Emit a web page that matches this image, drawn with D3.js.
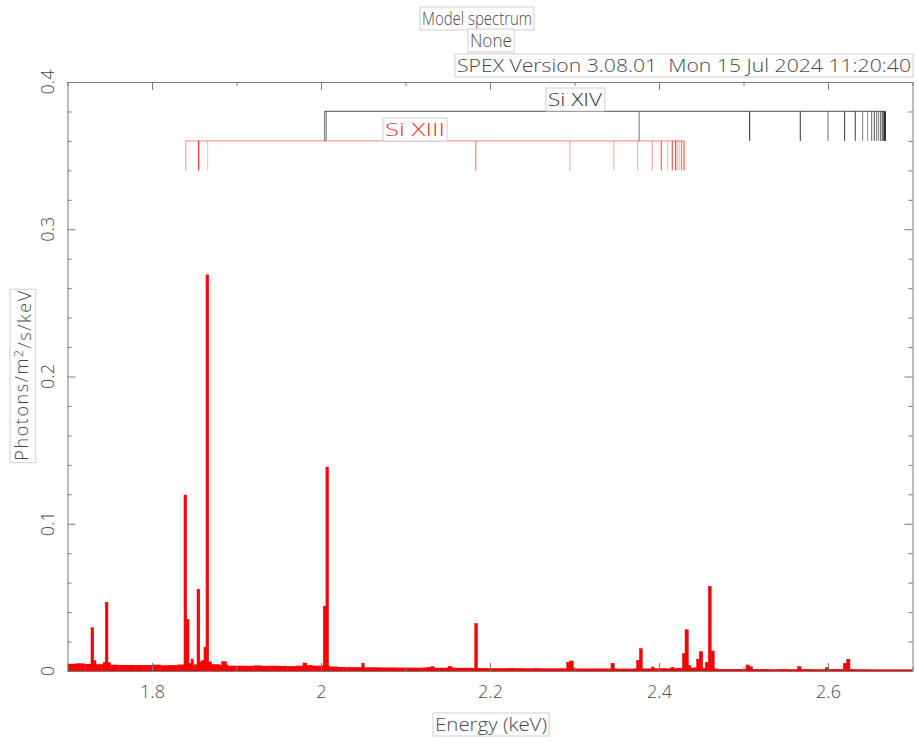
<!DOCTYPE html>
<html>
<head>
<meta charset="utf-8">
<script src="https://cdn.jsdelivr.net/npm/d3@7"></script>
<style>
  html, body { margin: 0; padding: 0; background: #fff; }
  svg { display: block; }
  text { font-family: "Open Sans", "DejaVu Sans", sans-serif; font-weight: 300; fill: #4a4a4a; white-space: pre; }
</style>
</head>
<body>
<svg id="chart" width="918" height="743"></svg>
<script>
// ---- Model continuum, 0.01 keV bins starting at these energies (keV) ----
const contLo = [
  1.70,1.71,1.72,1.73,1.74,1.75,1.76,1.77,1.78,1.79,
  1.80,1.81,1.82,1.83,1.84,1.85,1.86,1.87,1.88,1.89,
  1.90,1.91,1.92,1.93,1.94,1.95,1.96,1.97,1.98,1.99,
  2.00,2.01,2.02,2.03,2.04,2.05,2.06,2.07,2.08,2.09,
  2.10,2.11,2.12,2.13,2.14,2.15,2.16,2.17,2.18,2.19,
  2.20,2.21,2.22,2.23,2.24,2.25,2.26,2.27,2.28,2.29,
  2.30,2.31,2.32,2.33,2.34,2.35,2.36,2.37,2.38,2.39,
  2.40,2.41,2.42,2.43,2.44,2.45,2.46,2.47,2.48,2.49,
  2.50,2.51,2.52,2.53,2.54,2.55,2.56,2.57,2.58,2.59,
  2.60,2.61,2.62,2.63,2.64,2.65,2.66,2.67,2.68,2.69
];
const contVal = [
  .0049,.0052,.0048,.0046,.0047,.0043,.0041,.0041,.0040,.0040,
  .0043,.0039,.0040,.0044,.0042,.0045,.0050,.0046,.0042,.0036,
  .0036,.0035,.0038,.0035,.0036,.0034,.0033,.0036,.0040,.0036,
  .0038,.0030,.0027,.0026,.0026,.0025,.0025,.0024,.0024,.0023,
  .0023,.0022,.0024,.0022,.0022,.0023,.0021,.0021,.0020,.0020,
  .0019,.0019,.0020,.0019,.0018,.0019,.0018,.0018,.0018,.0019,
  .0017,.0017,.0017,.0017,.0017,.0016,.0016,.0018,.0017,.0018,
  .0019,.0018,.0020,.0022,.0024,.0020,.0016,.0013,.0013,.0013,
  .0013,.0013,.0013,.0012,.0013,.0012,.0012,.0013,.0012,.0012,
  .0013,.0013,.0014,.0012,.0012,.0011,.0011,.0011,.0011,.0011
];

// ---- Line features: narrow bins (keV) and fluxes (photons/m^2/s/keV) ----
const featLo = [
  1.7278,1.7310,1.7424,1.7447,1.7479,1.8379,1.8411,1.8438,1.8462,1.8533,
  1.8565,1.8588,1.8615,1.8639,1.8671,1.8825,1.9787,2.0027,2.0058,2.0482,
  2.1254,2.1302,2.1503,2.1819,2.2908,2.2941,2.3432,2.3736,2.3769,2.3914,
  2.4142,2.4278,2.4308,2.4347,2.4446,2.4477,2.4548,2.4584,2.4618,2.5030,
  2.5069,2.5641,2.5968,2.6181,2.6221
];
const featHi = [
  1.7310,1.7337,1.7447,1.7479,1.7511,1.8411,1.8438,1.8462,1.8489,1.8565,
  1.8588,1.8615,1.8639,1.8671,1.8706,1.8884,1.9834,2.0058,2.0089,2.0512,
  2.1290,2.1337,2.1550,2.1852,2.2941,2.2986,2.3471,2.3769,2.3802,2.3941,
  2.4178,2.4308,2.4347,2.4379,2.4477,2.4517,2.4584,2.4618,2.4654,2.5069,
  2.5107,2.5681,2.6008,2.6221,2.6260
];
const featVal = [
  .0294,.0070,.0060,.0466,.0056,.1195,.0351,.0050,.0081,.0555,
  .0062,.0070,.0161,.2690,.0062,.0063,.0054,.0440,.1385,.0052,
  .0025,.0029,.0031,.0321,.0059,.0068,.0052,.0073,.0152,.0027,
  .0025,.0118,.0280,.0036,.0081,.0131,.0059,.0575,.0136,.0041,
  .0029,.0030,.0023,.0052,.0079
];

// ---- Line identifications: energies (keV) and relative strengths ----
const siXIVEnergy = [2.0043,2.0061,2.3765,2.5073,2.5672,2.6000,2.6197,2.6323,2.6410,2.6470,
                     2.6517,2.6548,2.6576,2.6600,2.6623,2.6642,2.6660,2.6670,2.6678];
const siXIVStrength = [0.55,0.6,0.55,0.85,0.8,0.55,0.8,0.75,0.5,0.45,0.6,0.7,0.6,0.5,0.6,0.7,0.8,0.85,0.95];
const siXIIIEnergy = [1.8400,1.8553,1.8659,2.1832,2.2946,2.3466,2.3748,2.3920,2.4027,2.4103,
                      2.4157,2.4198,2.4222,2.4246,2.4266,2.4288,2.4300];
const siXIIIStrength = [0.45,1.0,0.3,0.6,0.4,0.35,0.35,0.4,0.75,0.3,0.8,0.9,0.35,0.3,0.5,0.4,0.5];

// ---- Axes ----
const xDomain = [1.7, 2.7];
const yDomain = [0, 0.4];
const xMajor = [1.8, 2.0, 2.2, 2.4, 2.6];
const xMajorLabels = ["1.8", "2", "2.2", "2.4", "2.6"];
const xMinor = [1.7, 1.9, 2.1, 2.3, 2.5, 2.7];
const yMajor = [0, 0.1, 0.2, 0.3, 0.4];
const yMajorLabels = ["0", "0.1", "0.2", "0.3", "0.4"];
const yMinor = [0.02,0.04,0.06,0.08,0.12,0.14,0.16,0.18,0.22,0.24,0.26,0.28,0.32,0.34,0.36,0.38];

const svg = d3.select("#chart");
const plotLeft = 67.5, plotRight = 912.5, plotTop = 82, plotBottom = 671;
const x = d3.scaleLinear().domain(xDomain).range([plotLeft, plotRight]);
const y = d3.scaleLinear().domain(yDomain).range([plotBottom, plotTop]);
const axisColor = "#7a7a7a";

svg.append("defs").append("clipPath").attr("id", "plotClip")
  .append("rect").attr("x", plotLeft).attr("y", plotTop)
  .attr("width", plotRight - plotLeft).attr("height", plotBottom - plotTop);

// Spectrum histogram
const spec = svg.append("g").attr("clip-path", "url(#plotClip)");
const contBins = contLo.map((lo, i) => ({ lo, hi: lo + 0.01, v: contVal[i] }));
const featBins = featLo.map((lo, i) => ({ lo, hi: featHi[i], v: featVal[i] }));
spec.selectAll("rect.cont").data(contBins).join("rect").attr("class", "cont")
  .attr("x", d => x(d.lo)).attr("width", d => x(d.hi) - x(d.lo) + 0.3)
  .attr("y", d => y(d.v)).attr("height", d => y(0) - y(d.v))
  .attr("fill", "#ff0000");
spec.selectAll("rect.feat").data(featBins).join("rect").attr("class", "feat")
  .attr("x", d => x(d.lo)).attr("width", d => x(d.hi) - x(d.lo))
  .attr("y", d => y(d.v)).attr("height", d => y(0) - y(d.v))
  .attr("fill", "#ff0000").attr("stroke", "#e80000").attr("stroke-width", 0.5);

// Frame and ticks
const frame = svg.append("g");
function styleAxis(g) {
  g.select(".domain").attr("stroke", axisColor);
  g.selectAll(".tick line").attr("stroke", axisColor);
  g.selectAll(".tick text").style("font-size", "18px").attr("fill", "#4a4a4a");
}
frame.append("g").attr("transform", `translate(0,${plotBottom})`)
  .call(d3.axisBottom(x).tickValues(xMajor).tickFormat((d, i) => xMajorLabels[i]).tickSize(-8).tickSizeOuter(0).tickPadding(14))
  .call(styleAxis).call(g => g.selectAll(".tick text").attr("dy", "0.71em"));
frame.append("g").attr("transform", `translate(0,${plotBottom})`)
  .call(d3.axisBottom(x).tickValues(xMinor).tickFormat("").tickSize(-4).tickSizeOuter(0))
  .call(styleAxis).call(g => g.select(".domain").remove());
frame.append("g").attr("transform", `translate(0,${plotTop})`)
  .call(d3.axisTop(x).tickValues(xMajor).tickFormat("").tickSize(-8).tickSizeOuter(0))
  .call(styleAxis);
frame.append("g").attr("transform", `translate(0,${plotTop})`)
  .call(d3.axisTop(x).tickValues(xMinor).tickFormat("").tickSize(-4).tickSizeOuter(0))
  .call(styleAxis).call(g => g.select(".domain").remove());

frame.append("g").attr("transform", `translate(${plotLeft},0)`)
  .call(d3.axisLeft(y).tickValues(yMajor).tickFormat("").tickSize(-8).tickSizeOuter(0))
  .call(styleAxis);
frame.append("g").attr("transform", `translate(${plotLeft},0)`)
  .call(d3.axisLeft(y).tickValues(yMinor).tickFormat("").tickSize(-4).tickSizeOuter(0))
  .call(styleAxis).call(g => g.select(".domain").remove());
frame.append("g").attr("transform", `translate(${plotRight},0)`)
  .call(d3.axisRight(y).tickValues(yMajor).tickFormat("").tickSize(-8).tickSizeOuter(0))
  .call(styleAxis);
frame.append("g").attr("transform", `translate(${plotRight},0)`)
  .call(d3.axisRight(y).tickValues(yMinor).tickFormat("").tickSize(-4).tickSizeOuter(0))
  .call(styleAxis).call(g => g.select(".domain").remove());

// Rotated y tick labels
frame.selectAll("text.ylab").data(yMajor).join("text").attr("class", "ylab")
  .attr("transform", d => `translate(54,${y(d)}) rotate(-90)`)
  .attr("text-anchor", "middle").style("font-size", "18px")
  .text((d, i) => yMajorLabels[i]);

// Line identification markers
function lineSeries(energies, strengths, yTop, yBot, color, hOpacity) {
  const g = svg.append("g");
  g.append("line")
    .attr("x1", x(d3.min(energies))).attr("x2", x(d3.max(energies)))
    .attr("y1", y(yTop)).attr("y2", y(yTop))
    .attr("stroke", color).attr("stroke-opacity", hOpacity).attr("stroke-width", 1.2);
  g.selectAll("line.mk").data(energies).join("line").attr("class", "mk")
    .attr("x1", d => x(d)).attr("x2", d => x(d))
    .attr("y1", y(yTop)).attr("y2", y(yBot))
    .attr("stroke", color).attr("stroke-width", 1)
    .attr("stroke-opacity", (d, i) => strengths[i]);
  return g;
}
lineSeries(siXIVEnergy, siXIVStrength, 0.38, 0.36, "#000000", 0.55);
lineSeries(siXIIIEnergy, siXIIIStrength, 0.36, 0.34, "#ff0000", 0.4);

// Boxed labels
function boxedText(txt, cx, baseline, opts = {}) {
  const size = opts.size || 18;
  const g = svg.append("g");
  const t = g.append("text").attr("x", cx).attr("y", baseline)
    .attr("text-anchor", opts.anchor || "middle").style("font-size", size + "px").text(txt);
  if (opts.length) t.attr("textLength", opts.length).attr("lengthAdjust", "spacingAndGlyphs");
  if (opts.color) t.style("fill", opts.color);
  const b = t.node().getBBox();
  const pad = 2;
  g.insert("rect", "text").attr("fill", "#fff").attr("stroke", "#cfcfcf").attr("stroke-width", 1)
    .attr("x", b.x - pad).attr("y", b.y + 1).attr("width", b.width + 2 * pad).attr("height", b.height - 1);
  return g;
}
boxedText("Model spectrum", 477, 25, { length: 110 });
boxedText("None", 491, 47, { length: 42 });
boxedText("SPEX Version 3.08.01  Mon 15 Jul 2024 11:20:40", 457, 72, { anchor: "start", length: 454 });
boxedText("Energy (keV)", 491, 731, { length: 112 });
boxedText("Si XIV", 575, 106, { length: 54, color: "#333" });
boxedText("Si XIII", 415, 136, { length: 60, color: "#ff3030" });

// Y axis title with superscript
(function () {
  const cx = 28, cy = 375;
  const g = svg.append("g");
  const t = g.append("text").attr("x", cx).attr("y", cy).attr("text-anchor", "middle")
    .attr("transform", `rotate(-90,${cx},${cy})`).style("font-size", "18px")
    .style("letter-spacing", "1.6px");
  t.append("tspan").text("Photons/m");
  t.append("tspan").attr("dy", "-0.45em").style("font-size", "12px").text("2");
  t.append("tspan").attr("dy", "0.45em").text("/s/keV");
  const b = t.node().getBBox();
  g.insert("rect", "text").attr("transform", `rotate(-90,${cx},${cy})`)
    .attr("x", b.x - 2).attr("y", b.y + 1).attr("width", b.width + 2).attr("height", b.height - 1)
    .attr("fill", "#fff").attr("stroke", "#cfcfcf");
})();
</script>
</body>
</html>
